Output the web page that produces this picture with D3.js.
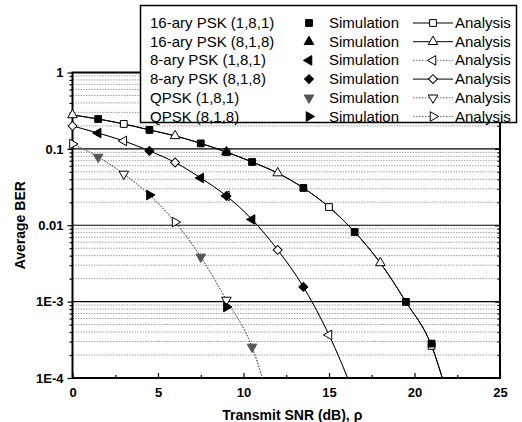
<!DOCTYPE html>
<html>
<head>
<meta charset="utf-8">
<script src="https://cdn.jsdelivr.net/npm/d3@7"></script>
<style>
  body { margin: 0; background: #fff; }
  svg { font-family: "Liberation Sans", Arial, sans-serif; }
</style>
</head>
<body>
<svg id="chart"></svg>
<script>
// analysis curves (shared by both antenna configurations of one modulation)
const analysisX16 = [0, 1.5, 3, 4.5, 6, 7.5, 9, 10.5, 12, 13.5, 15, 16.5, 18, 19.5, 21, 22];
const analysis16 = [0.278, 0.246, 0.212, 0.177, 0.148, 0.118, 0.091, 0.0674, 0.0482, 0.0308, 0.0173, 0.00816, 0.00321, 0.00099, 0.000263, 0.000052];
const analysisX8 = [0, 1.5, 3, 4.5, 6, 7.5, 9, 10.5, 12, 13.5, 15, 16.5];
const analysis8 = [0.2, 0.161, 0.127, 0.094, 0.0664, 0.0416, 0.0242, 0.0119, 0.00475, 0.00156, 0.000366, 0.00006];
const analysisXQ = [0, 1.5, 3, 4.5, 6, 7.5, 9, 10.5, 11.5];
const analysisQ = [0.116, 0.0783, 0.0469, 0.0249, 0.011, 0.00385, 0.00105, 0.000255, 0.00005];

const seriesNames = ["16-ary PSK (1,8,1)", "16-ary PSK (8,1,8)", "8-ary PSK (1,8,1)", "8-ary PSK (8,1,8)", "QPSK (1,8,1)", "QPSK (8,1,8)"];
const simX = [
  [1.5, 4.5, 7.5, 10.5, 13.5, 16.5, 19.5, 21],
  [9],
  [1.5, 7.5, 10.5],
  [4.5, 9, 13.5],
  [1.5, 7.5, 10.5],
  [4.5, 9]
];
const simY = [
  [0.246, 0.177, 0.118, 0.0674, 0.0308, 0.00816, 0.00099, 0.000282],
  [0.091],
  [0.161, 0.0416, 0.0119],
  [0.094, 0.0242, 0.00156],
  [0.0783, 0.00385, 0.000255],
  [0.0249, 0.00085]
];
// which analysis points carry an open marker
const anaMarkX = [
  [3, 9, 15, 21],
  [0, 6, 12, 18],
  [3, 9, 15],
  [0, 6, 12],
  [3, 9],
  [0, 6]
];
const xTicks = [0, 5, 10, 15, 20, 25];
const yTicks = [1, 0.1, 0.01, 1e-3, 1e-4];
const yTickLabels = ["1", "0.1", "0.01", "1E-3", "1E-4"];

const curvesX = [analysisX16, analysisX16, analysisX8, analysisX8, analysisXQ, analysisXQ];
const curvesY = [analysis16, analysis16, analysis8, analysis8, analysisQ, analysisQ];
const shapes = ["square", "up", "left", "diamond", "down", "right"];
const simFill = ["#000", "#000", "#000", "#000", "#555", "#000"];
const lineStyle = [
  { stroke: "#000", dash: null },
  { stroke: "#000", dash: null },
  { stroke: "#777", dash: "1.5,1.5" },
  { stroke: "#000", dash: null },
  { stroke: "#666", dash: "1.5,1.5" },
  { stroke: "#666", dash: "1.5,1.5" }
];

const W = 522, H = 422;
const margin = { left: 72.5, right: 22, top: 72.5, bottom: 44 };

const svg = d3.select("#chart").attr("width", W).attr("height", H);

const x = d3.scaleLinear().domain([0, 25]).range([margin.left, W - margin.right]);
const y = d3.scaleLog().domain([1e-4, 1]).range([H - margin.bottom, margin.top]);

svg.append("clipPath").attr("id", "plotClip")
  .append("rect")
  .attr("x", x(0)).attr("y", y(1))
  .attr("width", x(25) - x(0)).attr("height", y(1e-4) - y(1));

// minor grid lines
const minorVals = [];
[1e-4, 1e-3, 1e-2, 1e-1].forEach(d => { for (let k = 2; k <= 9; k++) minorVals.push(d * k); });
svg.append("g").selectAll("line")
  .data(minorVals)
  .join("line")
  .attr("x1", x(0)).attr("x2", x(25))
  .attr("y1", d => y(d)).attr("y2", d => y(d))
  .attr("stroke", "#888")
  .attr("stroke-width", 0.8)
  .attr("stroke-dasharray", "1.5,1.2");

// major grid
svg.append("g").selectAll("line")
  .data([0.1, 0.01, 1e-3])
  .join("line")
  .attr("x1", x(0)).attr("x2", x(25))
  .attr("y1", d => y(d)).attr("y2", d => y(d))
  .attr("stroke", "#000")
  .attr("stroke-width", 1.2);

// axes
const xAxis = d3.axisBottom(x).tickValues(xTicks).tickSize(-5).tickPadding(10).tickFormat(d3.format("d"));
const xAxisMinor = d3.axisBottom(x).tickValues([2.5, 7.5, 12.5, 17.5, 22.5]).tickSize(-3).tickFormat("");
const yAxis = d3.axisLeft(y).tickValues(yTicks).tickSize(5).tickPadding(4).tickFormat((d, i) => yTickLabels[i]);
const yAxisMinor = d3.axisLeft(y).tickValues(minorVals).tickSize(3).tickFormat("");
const yAxisRight = d3.axisRight(y).tickValues(yTicks).tickSize(-5).tickFormat("");
const yAxisRightMinor = d3.axisRight(y).tickValues(minorVals).tickSize(-2.5).tickFormat("");

function styleAxis(g) {
  g.select(".domain").remove();
  g.selectAll(".tick line").attr("stroke", "#000").attr("stroke-width", 1.2);
  g.selectAll(".tick text").attr("fill", "#000").style("font-size", "13px")
    .style("font-weight", "bold")
    .style("font-family", "'Liberation Sans', Arial, sans-serif");
}

svg.append("g").attr("transform", `translate(0,${y(1e-4)})`).call(xAxis).call(styleAxis);
svg.append("g").attr("transform", `translate(0,${y(1e-4)})`).call(xAxisMinor).call(styleAxis);
svg.append("g").attr("transform", `translate(${x(0)},0)`).call(yAxis).call(styleAxis);
svg.append("g").attr("transform", `translate(${x(0)},0)`).call(yAxisMinor).call(styleAxis);
svg.append("g").attr("transform", `translate(${x(25)},0)`).call(yAxisRight).call(styleAxis);
svg.append("g").attr("transform", `translate(${x(25)},0)`).call(yAxisRightMinor).call(styleAxis);

// frame
svg.append("rect")
  .attr("x", x(0)).attr("y", y(1))
  .attr("width", x(25) - x(0)).attr("height", y(1e-4) - y(1))
  .attr("fill", "none")
  .attr("stroke", "#000")
  .attr("stroke-width", 2);

// analysis lines
const line = d3.line()
  .x(d => x(d[0]))
  .y(d => y(d[1]))
  .curve(d3.curveMonotoneX);

const plot = svg.append("g");
seriesNames.forEach((name, i) => {
  const pts = curvesX[i].map((v, j) => [v, curvesY[i][j]]);
  plot.append("path")
    .attr("clip-path", "url(#plotClip)")
    .attr("d", line(pts))
    .attr("fill", "none")
    .attr("stroke", lineStyle[i].stroke)
    .attr("stroke-width", 1)
    .attr("stroke-dasharray", lineStyle[i].dash);
});

// marker shapes
function symbolPath(shape) {
  if (shape === "square") return d3.symbol(d3.symbolSquare, 46)();
  if (shape === "diamond") return d3.symbol(d3.symbolSquare, 40)();
  return d3.symbol(d3.symbolTriangle, 40)();
}
function symbolRot(shape) {
  return { up: 0, right: 90, down: 180, left: -90, diamond: 45 }[shape] || 0;
}
function drawMarker(g, cx, cy, shape, filled, fill) {
  g.append("path")
    .attr("d", symbolPath(shape))
    .attr("transform", `translate(${cx},${cy}) rotate(${symbolRot(shape)})`)
    .attr("fill", filled ? fill : "#fff")
    .attr("stroke", filled ? fill : "#000")
    .attr("stroke-width", 1);
}

// analysis open markers first, then simulation filled markers
seriesNames.forEach((name, i) => {
  anaMarkX[i].forEach(v => {
    const j = curvesX[i].indexOf(v);
    drawMarker(plot, x(v), y(curvesY[i][j]), shapes[i], false);
  });
});
seriesNames.forEach((name, i) => {
  simX[i].forEach((v, j) => {
    drawMarker(plot, x(v), y(simY[i][j]), shapes[i], true, simFill[i]);
  });
});

// axis titles
svg.append("text")
  .attr("x", (x(0) + x(25)) / 2 + 6)
  .attr("y", 420)
  .attr("text-anchor", "middle")
  .style("font-size", "14px")
  .style("font-weight", "bold")
  .text("Transmit SNR (dB), ρ");

svg.append("text")
  .attr("transform", `translate(25,${(y(1) + y(1e-4)) / 2}) rotate(-90)`)
  .attr("text-anchor", "middle")
  .style("font-size", "14px")
  .style("font-weight", "bold")
  .text("Average BER");

// legend
const legend = svg.append("g");
legend.append("rect")
  .attr("x", 140.5).attr("y", 5.5)
  .attr("width", 376).attr("height", 117)
  .attr("fill", "#fff")
  .attr("stroke", "#000")
  .attr("stroke-width", 1.5);

seriesNames.forEach((name, i) => {
  const cy = 23 + i * 18.7;
  legend.append("text")
    .attr("x", 150).attr("y", cy + 5)
    .style("font-size", "15px")
    .text(name);
  drawMarker(legend, 309, cy, shapes[i], true, simFill[i]);
  legend.append("text")
    .attr("x", 329).attr("y", cy + 5)
    .style("font-size", "15px")
    .text("Simulation");
  legend.append("line")
    .attr("x1", 413).attr("x2", 453)
    .attr("y1", cy).attr("y2", cy)
    .attr("stroke", lineStyle[i].stroke)
    .attr("stroke-width", 1)
    .attr("stroke-dasharray", lineStyle[i].dash);
  drawMarker(legend, 433, cy, shapes[i], false);
  legend.append("text")
    .attr("x", 455).attr("y", cy + 5)
    .style("font-size", "15px")
    .text("Analysis");
});
</script>
</body>
</html>
